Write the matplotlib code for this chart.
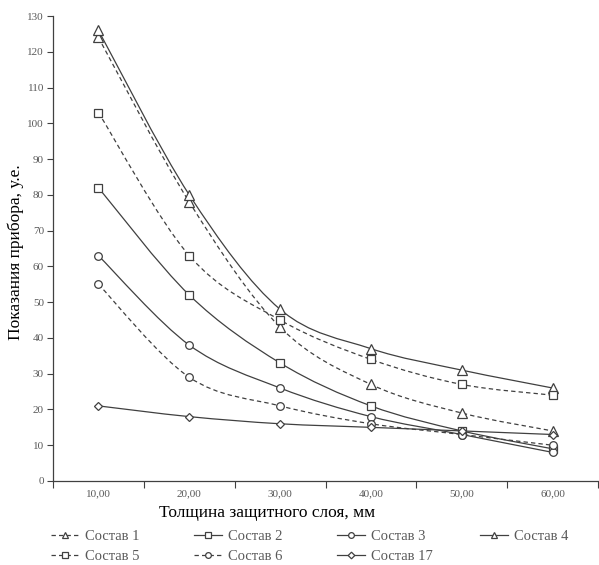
import matplotlib
matplotlib.use("Agg")
import matplotlib.pyplot as plt
from matplotlib.path import Path
from matplotlib.patches import PathPatch
from matplotlib.lines import Line2D
import numpy as np

plt.rcParams['font.family'] = ['Liberation Serif', 'DejaVu Serif']

# data
thickness = ['10,00', '20,00', '30,00', '40,00', '50,00', '60,00']
sostav_1 = [124, 78, 43, 27, 19, 14]
sostav_2 = [82, 52, 33, 21, 14, 9]
sostav_3 = [63, 38, 26, 18, 13, 8]
sostav_4 = [126, 80, 48, 37, 31, 26]
sostav_5 = [103, 63, 45, 34, 27, 24]
sostav_6 = [55, 29, 21, 16, 13, 10]
sostav_17 = [21, 18, 16, 15, 14, 13]
names = ['Состав 1', 'Состав 2', 'Состав 3', 'Состав 4', 'Состав 5', 'Состав 6', 'Состав 17']
y_ticks = list(range(0, 131, 10))

line_col = '#404040'
text_col = '#595959'
dash = (0, (3.5, 2.5))

series = [
    (sostav_1, '^', dash),
    (sostav_2, 's', '-'),
    (sostav_3, 'o', '-'),
    (sostav_4, '^', '-'),
    (sostav_5, 's', dash),
    (sostav_6, 'o', dash),
    (sostav_17, 'D', '-'),
]


def smooth_path(xs, ys):
    # excel-like smoothing: catmull-rom as cubic bezier
    xs = np.asarray(xs, float)
    ys = np.asarray(ys, float)
    n = len(xs)
    verts = [(xs[0], ys[0])]
    codes = [Path.MOVETO]
    for i in range(n - 1):
        p0 = i - 1 if i > 0 else i
        p3 = i + 2 if i + 2 < n else i + 1
        c1 = (xs[i] + (xs[i + 1] - xs[p0]) / 6, ys[i] + (ys[i + 1] - ys[p0]) / 6)
        c2 = (xs[i + 1] - (xs[p3] - xs[i]) / 6, ys[i + 1] - (ys[p3] - ys[i]) / 6)
        verts += [c1, c2, (xs[i + 1], ys[i + 1])]
        codes += [Path.CURVE4] * 3
    return Path(verts, codes)


fig = plt.figure(figsize=(5.99, 5.65), dpi=100)
ax = fig.add_axes([53 / 599, 1 - 481 / 565, (598 - 53) / 599, (481 - 16) / 565])

x = np.arange(len(thickness))
handles = []
for (vals, mk, ls), name in zip(series, names):
    ms = 6.5 if mk == '^' else (4.5 if mk == 'D' else 5.5)
    patch = PathPatch(smooth_path(x, vals), facecolor='none', edgecolor=line_col,
                      lw=0.9, linestyle=ls, zorder=2)
    ax.add_patch(patch)
    ax.plot(x, vals, linestyle='none', marker=mk, ms=ms, mfc='white',
            mec=line_col, mew=0.9, zorder=3)
    handles.append(Line2D([], [], color=line_col, lw=0.9, linestyle=ls, marker=mk,
                          ms=ms * 0.75, mfc='white', mec=line_col, mew=0.9))

ax.set_xlim(-0.5, len(thickness) - 0.5)
ax.set_ylim(0, 130)
ax.set_xticks(np.arange(-0.5, len(thickness)), [''] * (len(thickness) + 1))
ax.set_xticks(x, thickness, minor=True)
ax.tick_params(axis='x', which='major', length=5, direction='out', color=line_col)
ax.tick_params(axis='x', which='minor', length=0, pad=6, labelsize=8, labelcolor=text_col)
ax.set_yticks(y_ticks)
ax.tick_params(axis='y', length=4, direction='out', color=line_col, labelsize=8,
               labelcolor=text_col, pad=2.5)
for s in ['top', 'right']:
    ax.spines[s].set_visible(False)
for s in ['left', 'bottom']:
    ax.spines[s].set_color(line_col)
    ax.spines[s].set_linewidth(0.9)

fig.text(267 / 599, 1 - 513 / 565, 'Толщина защитного слоя, мм', ha='center', va='center',
         fontsize=12.5)
fig.text(16 / 599, 1 - 252 / 565, 'Показания прибора, у.е.', ha='center', va='center',
         rotation=90, fontsize=12.5)

# one legend per column so columns are evenly spaced like excel
columns = [[0, 4], [1, 5], [2, 6], [3]]
col_x = [38, 181, 324, 467]
for idx, cx in zip(columns, col_x):
    fig.legend([handles[i] for i in idx], [names[i] for i in idx], ncol=1,
               loc='upper left', bbox_to_anchor=(cx / 599, 1 - 517 / 565), frameon=False,
               fontsize=10.5, handlelength=1.9, handletextpad=0.4,
               labelspacing=0.45, labelcolor=text_col)

fig.savefig('out.png', dpi=100)
